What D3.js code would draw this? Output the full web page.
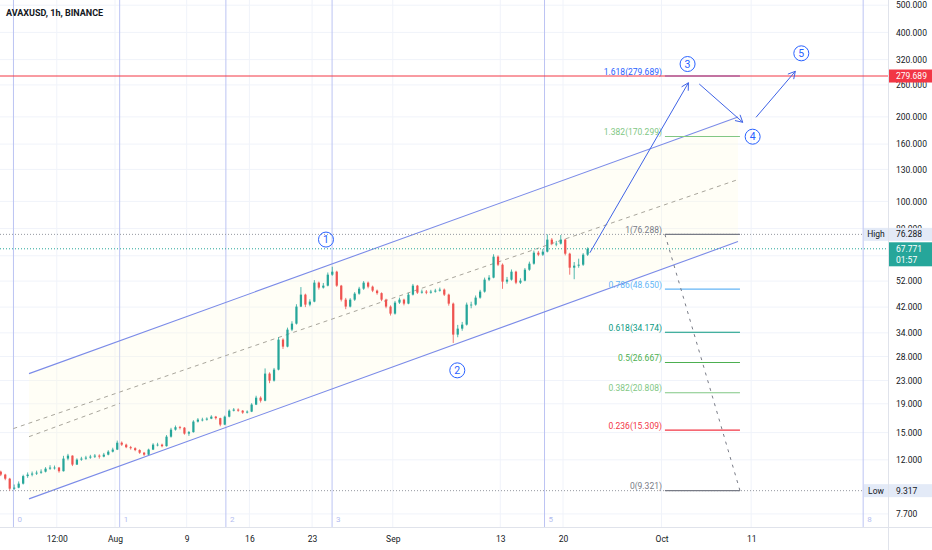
<!DOCTYPE html>
<html><head><meta charset="utf-8">
<script src="https://cdn.jsdelivr.net/npm/d3@7"></script>
<style>
html,body{margin:0;padding:0;background:#fff;}
svg{display:block;font-family:Roboto,"Liberation Sans",sans-serif;}
</style></head><body>
<svg id="c" width="932" height="550"></svg>
<script>
// ---------------- DATA ----------------
const title = "AVAXUSD, 1h, BINANCE";
const candleStart = "2021-07-19T00:00:00Z";
const candleHours = 12;
const firstOpen = 10.89;
const closes = [10.63,10.28,9.47,9.55,9.87,10.50,10.63,10.72,10.80,10.89,
 11.16,11.26,11.26,10.93,12.12,12.42,11.54,12.02,12.12,12.22,
 12.32,12.42,12.32,12.52,12.83,13.05,13.81,13.59,13.31,13.20,
 13.00,12.72,12.52,13.05,13.59,13.59,13.42,14.51,15.37,15.68,
 15.62,14.88,15.06,16.42,16.69,16.69,16.82,17.10,16.89,16.02,
 17.10,17.96,18.12,17.96,17.68,17.82,18.88,19.98,19.49,24.34,
 22.98,25.15,32.17,30.37,34.92,36.67,42.18,46.53,42.87,43.94,
 51.34,49.28,50.09,54.81,56.17,50.09,44.66,42.18,44.66,46.91,
 48.87,51.34,49.68,48.08,47.10,44.66,42.18,39.82,43.58,44.66,
 43.22,46.53,50.09,47.30,47.69,47.30,47.69,48.08,48.48,46.53,
 43.22,33.52,35.20,36.38,42.87,42.87,45.40,47.69,52.62,53.49,
 63.53,59.49,51.76,52.62,56.17,51.34,52.19,57.10,59.98,65.65,
 64.58,66.19,73.06,70.70,70.70,73.06,65.11,58.05,59.01,59.49,
 64.58,67.77];
const highs = [10.98,10.70,10.35,9.80,10.05,10.62,10.82,10.90,10.98,11.10,
 11.30,11.48,11.45,11.32,12.40,12.60,12.45,12.15,12.30,12.40,
 12.50,12.58,12.55,12.70,12.98,13.25,14.05,13.95,13.70,13.45,
 13.30,13.08,12.80,13.15,13.75,13.80,13.70,14.70,15.60,15.90,
 15.85,15.70,15.20,16.60,16.90,16.95,17.00,17.30,17.20,16.95,
 17.25,18.15,18.35,18.30,18.05,18.00,19.10,20.30,20.20,25.40,
 24.60,25.50,32.80,32.50,35.50,37.40,43.00,49.50,46.90,44.80,
 52.40,51.80,51.20,55.80,58.50,56.60,50.40,45.30,45.20,47.50,
 49.60,52.00,51.80,50.10,48.50,47.40,45.00,42.60,44.20,45.40,
 45.00,47.20,50.80,50.40,48.50,48.30,48.40,48.80,49.30,48.90,
 46.90,43.60,36.30,37.20,43.60,43.90,46.20,48.40,53.50,54.60,
 64.80,64.20,60.10,53.80,57.20,56.60,53.20,57.90,61.00,66.80,
 66.60,67.60,76.29,74.00,72.30,75.90,73.60,65.60,60.80,62.50,
 65.40,68.60];
const lows = [10.50,10.15,9.317,9.38,9.50,9.80,10.35,10.48,10.60,10.70,
 10.82,11.05,11.08,10.80,10.90,11.95,11.40,11.50,11.90,12.00,
 12.10,12.18,12.12,12.25,12.45,12.75,13.00,13.45,13.20,13.05,
 12.88,12.60,12.40,12.48,13.00,13.40,13.30,13.38,14.40,15.25,
 15.40,14.75,14.60,15.00,16.30,16.45,16.55,16.75,16.70,15.80,
 15.95,17.00,17.85,17.80,17.50,17.55,17.75,18.80,19.20,19.40,
 22.50,22.80,25.00,29.80,30.20,34.50,36.40,42.00,42.00,42.30,
 43.70,48.50,48.90,49.80,54.30,49.60,44.00,41.30,41.90,44.20,
 46.50,48.40,49.00,47.50,46.50,44.10,41.60,39.20,39.50,43.10,
 42.60,43.00,46.20,46.80,46.90,46.70,46.90,47.30,47.70,46.00,
 42.50,31.30,32.80,34.60,36.10,41.60,42.50,45.00,47.30,52.00,
 53.20,58.80,48.80,50.90,52.20,50.70,50.80,51.90,56.60,59.50,
 63.80,63.90,65.80,69.80,69.20,70.20,64.20,54.80,52.80,58.00,
 58.90,63.90];

const gridPrices = [500,400,320,260,200,160,130,100,80,64,52,42,34,28,23,19,15,12,7.7];
const priceTickLabels = [500,400,320,260,200,160,130,100,80,52,42,34,28,23,19,15,12,7.7];
const timeTickDates = ["2021-07-25T12:00:00Z","2021-08-01T00:00:00Z","2021-08-09T00:00:00Z","2021-08-16T00:00:00Z","2021-08-23T00:00:00Z","2021-09-01T00:00:00Z","2021-09-13T00:00:00Z","2021-09-20T00:00:00Z","2021-10-01T00:00:00Z","2021-10-11T00:00:00Z"];
const timeTickLabels = ["12:00","Aug","9","16","23","Sep","13","20","Oct","11"];

const fibTimeStart = "2021-07-20T16:00:00Z";
const fibTimeUnitHours = 284.5;
const fibTimeSeq = [0,1,2,3,5,8];

const fibRatios = ["1.618","1.382","1","0.786","0.618","0.5","0.382","0.236","0"];
const fibPrices = [279.689,170.299,76.288,48.650,34.174,26.667,20.808,15.309,9.321];
const fibColors = ["#2962ff","#81c784","#787b86","#64b5f6","#089981","#4caf50","#81c784","#f23645","#787b86"];
const fibFrom = "2021-10-01T09:00:00Z";
const fibTo = "2021-10-09T18:00:00Z";

const channelDates = ["2021-07-22T09:40:00Z","2021-10-09T12:45:00Z"];
const channelUpper = [24.34,199.8];
const channelLower = [8.71,71.9];
const dashA = {dates:["2021-07-20T15:40:00Z","2021-10-09T12:45:00Z"], prices:[15.50,119.6]};
const dashB = {dates:["2021-07-22T09:40:00Z","2021-08-01T13:20:00Z"], prices:[14.51,19.09]};

const waveNums = ["1","2","3","4","5"];
const waveDates = ["2021-08-24T13:10:00Z","2021-09-08T04:50:00Z","2021-10-03T21:40:00Z","2021-10-11T04:00:00Z","2021-10-16T14:20:00Z"];
const wavePrices = [73.1,25.0,308.6,170.0,336.9];

const arrowFromDates = ["2021-09-23T00:00:00Z","2021-10-05T05:00:00Z","2021-10-11T13:00:00Z"];
const arrowFromPrices = [65.6,261.9,199.3];
const arrowToDates = ["2021-10-04T00:00:00Z","2021-10-10T01:30:00Z","2021-10-15T22:20:00Z"];
const arrowToPrices = [264.7,191.3,290.7];

const redLinePrice = 279.689;
const highPrice = 76.288, lowPrice = 9.317, lastPrice = 67.771, countdown = "01:57";

// ---------------- CHART ----------------
const W = 932, H = 550, plotR = 888, plotB = 527;
const svg = d3.select("#c");
const P = s => new Date(s);
const x = d3.scaleUtc().domain([P("2021-08-01T00:00:00Z"), P("2021-08-31T00:00:00Z")]).range([115, 115 + 30*8.96]);
const y = d3.scaleLog().domain([7.7, 500]).range([513.9, 5.2]);
const text = "#131722";
const fs = 8.5;

svg.append("defs").append("clipPath").attr("id","plot").append("rect").attr("x",0).attr("y",0).attr("width",plotR).attr("height",plotB);
const g = svg.append("g").attr("clip-path","url(#plot)");

// grid
g.selectAll(".hg").data(gridPrices).enter().append("line")
  .attr("x1",0).attr("x2",plotR).attr("y1",d=>y(d)).attr("y2",d=>y(d)).attr("stroke","#f0f3fa");
g.selectAll(".vg").data(timeTickDates).enter().append("line")
  .attr("y1",0).attr("y2",plotB).attr("x1",d=>x(P(d))).attr("x2",d=>x(P(d))).attr("stroke","#f0f3fa");

// fib time zones
const ftz = fibTimeSeq.map(n => new Date(P(fibTimeStart).getTime() + n*fibTimeUnitHours*3600e3));
g.selectAll(".ftz").data(ftz).enter().append("line")
  .attr("x1",d=>x(d)).attr("x2",d=>x(d)).attr("y1",0).attr("y2",plotB).attr("stroke","#bcc4f3").attr("stroke-width",1);
g.selectAll(".ftzl").data(ftz).enter().append("text")
  .attr("x",d=>x(d)+4).attr("y",522).attr("font-size",8).attr("fill","#b3bcef").text((d,i)=>fibTimeSeq[i]);

// channel fill
const cd = channelDates.map(P);
g.append("path").attr("d", d3.line()([[x(cd[0]),y(channelUpper[0])],[x(cd[1]),y(channelUpper[1])],[x(cd[1]),y(channelLower[1])],[x(cd[0]),y(channelLower[0])]])+"Z")
  .attr("fill","#fffbe0").attr("fill-opacity",0.28);
// dashed lines
[dashA, dashB].forEach(dl => {
  g.append("line").attr("x1",x(P(dl.dates[0]))).attr("y1",y(dl.prices[0])).attr("x2",x(P(dl.dates[1]))).attr("y2",y(dl.prices[1]))
   .attr("stroke","#a9a69c").attr("stroke-dasharray","4,4").attr("stroke-width",1);
});
[channelUpper, channelLower].forEach(cl => {
  g.append("line").attr("x1",x(cd[0])).attr("y1",y(cl[0])).attr("x2",x(cd[1])).attr("y2",y(cl[1]))
   .attr("stroke","#7b8be8").attr("stroke-width",1.1);
});

// price lines (high/low dotted, current)
g.append("line").attr("x1",0).attr("x2",plotR).attr("y1",y(highPrice)).attr("y2",y(highPrice)).attr("stroke","#9598a1").attr("stroke-dasharray","1,2");
g.append("line").attr("x1",0).attr("x2",plotR).attr("y1",y(lowPrice)).attr("y2",y(lowPrice)).attr("stroke","#9598a1").attr("stroke-dasharray","1,2");
g.append("line").attr("x1",0).attr("x2",plotR).attr("y1",y(lastPrice)).attr("y2",y(lastPrice)).attr("stroke","#26a69a").attr("stroke-dasharray","1,2");

// candles
const t0 = P(candleStart).getTime(), hMs = candleHours*3600e3;
const candles = closes.map((c,i)=>({t:new Date(t0+i*hMs+hMs/2), o: i===0?firstOpen:closes[i-1], h:highs[i], l:lows[i], c}));
const bw = (x(new Date(t0+hMs)) - x(new Date(t0))) * 0.5;
const cg = g.append("g");
cg.selectAll(".wick").data(candles).enter().append("line")
  .attr("x1",d=>x(d.t)).attr("x2",d=>x(d.t)).attr("y1",d=>y(d.h)).attr("y2",d=>y(d.l))
  .attr("stroke",d=>d.c>=d.o?"#26a69a":"#ef5350").attr("stroke-width",0.8);
cg.selectAll(".body").data(candles).enter().append("rect")
  .attr("x",d=>x(d.t)-bw/2).attr("width",bw)
  .attr("y",d=>y(Math.max(d.o,d.c))).attr("height",d=>Math.max(0.8,Math.abs(y(d.o)-y(d.c))))
  .attr("fill",d=>d.c>=d.o?"#26a69a":"#ef5350");

// fib retracement
const fx1 = x(P(fibFrom)), fx2 = x(P(fibTo));
g.selectAll(".fib").data(fibPrices).enter().append("line")
  .attr("x1",fx1).attr("x2",fx2).attr("y1",d=>y(d)).attr("y2",d=>y(d)).attr("stroke",(d,i)=>fibColors[i]).attr("stroke-width",1.2);
g.selectAll(".fibt").data(fibPrices).enter().append("text")
  .attr("x",fx1-3).attr("y",d=>y(d)-1.5).attr("text-anchor","end").attr("font-size",fs).attr("fill",(d,i)=>fibColors[i])
  .text((d,i)=>fibRatios[i]+"("+d3.format(".3f")(d)+")");
g.append("line").attr("x1",fx1).attr("y1",y(fibPrices[2])).attr("x2",fx2).attr("y2",y(fibPrices[8]))
  .attr("stroke","#787b86").attr("stroke-dasharray","3,5").attr("stroke-width",1);

// red horizontal line
g.append("line").attr("x1",0).attr("x2",plotR).attr("y1",y(redLinePrice)).attr("y2",y(redLinePrice)).attr("stroke","#f23645").attr("stroke-width",1);

// arrows
const blue = "#3f63e6";
arrowFromDates.forEach((d,i)=>{
  const x1 = x(P(d)), y1 = y(arrowFromPrices[i]), x2 = x(P(arrowToDates[i])), y2 = y(arrowToPrices[i]);
  g.append("line").attr("x1",x1).attr("y1",y1).attr("x2",x2).attr("y2",y2).attr("stroke",blue).attr("stroke-width",1);
  const a = Math.atan2(y2-y1, x2-x1), L = 8, s = 0.5;
  g.append("path").attr("d", `M${x2-L*Math.cos(a-s)},${y2-L*Math.sin(a-s)}L${x2},${y2}L${x2-L*Math.cos(a+s)},${y2-L*Math.sin(a+s)}`)
    .attr("fill","none").attr("stroke",blue).attr("stroke-width",1);
});

// wave labels
waveNums.forEach((n,i)=>{
  const cx = x(P(waveDates[i])), cy = y(wavePrices[i]);
  g.append("circle").attr("cx",cx).attr("cy",cy).attr("r",7.5).attr("fill","none").attr("stroke","#2962ff").attr("stroke-width",1);
  g.append("text").attr("x",cx).attr("y",cy+3.6).attr("text-anchor","middle").attr("font-size",10.5).attr("fill","#2962ff").text(n);
});

// title
svg.append("text").attr("x",6).attr("y",16).attr("font-size",9).attr("font-weight","bold").attr("fill",text).text(title);

// axes borders
svg.append("line").attr("x1",plotR+0.5).attr("x2",plotR+0.5).attr("y1",0).attr("y2",H).attr("stroke","#e0e3eb");
svg.append("line").attr("x1",0).attr("x2",W).attr("y1",plotB+0.5).attr("y2",plotB+0.5).attr("stroke","#e0e3eb");

// price axis
const ya = svg.append("g").attr("transform",`translate(${plotR},0)`)
  .call(d3.axisRight(y).tickValues(priceTickLabels).tickFormat(d3.format(".3f")).tickSize(0).tickPadding(8));
ya.select(".domain").remove();
ya.selectAll("text").attr("font-size",fs).attr("fill",text).attr("font-family","Roboto,'Liberation Sans',sans-serif");

// time axis
const xa = svg.append("g").attr("transform",`translate(0,${plotB})`)
  .call(d3.axisBottom(x).tickValues(timeTickDates.map(P)).tickFormat((d,i)=>timeTickLabels[i]).tickSize(0).tickPadding(9));
xa.select(".domain").remove();
xa.selectAll("text").attr("font-size",fs).attr("fill",text).attr("font-family","Roboto,'Liberation Sans',sans-serif");

// axis value labels
function axisBox(price, bg, fg, label, h){
  const cy = y(price);
  svg.append("rect").attr("x",plotR+1).attr("y",cy-h/2).attr("width",W-plotR-1).attr("height",h).attr("fill",bg);
  svg.append("text").attr("x",plotR+8).attr("y",cy+3).attr("font-size",fs).attr("fill",fg).text(label);
}
axisBox(redLinePrice, "#f23645", "#fff", d3.format(".3f")(redLinePrice), 13);
axisBox(highPrice, "#e3eaf7", text, d3.format(".3f")(highPrice), 13);
axisBox(lowPrice, "#e3eaf7", text, d3.format(".3f")(lowPrice), 13);
// side labels High/Low
[[highPrice,"High"],[lowPrice,"Low"]].forEach(([p,l])=>{
  const cy = y(p);
  svg.append("rect").attr("x",864).attr("y",cy-6.5).attr("width",plotR-864).attr("height",13).attr("fill","#e3eaf7");
  svg.append("text").attr("x",876).attr("y",cy+3).attr("text-anchor","middle").attr("font-size",fs).attr("fill",text).text(l);
});
// current price box
const lc = y(lastPrice);
svg.append("rect").attr("x",plotR+1).attr("y",lc-6.5).attr("width",W-plotR-1).attr("height",24).attr("fill","#26a69a");
svg.append("text").attr("x",plotR+8).attr("y",lc+3).attr("font-size",fs).attr("fill","#fff").text(d3.format(".3f")(lastPrice));
svg.append("text").attr("x",plotR+8).attr("y",lc+14).attr("font-size",fs).attr("fill","#fff").text(countdown);
</script>
</body></html>
